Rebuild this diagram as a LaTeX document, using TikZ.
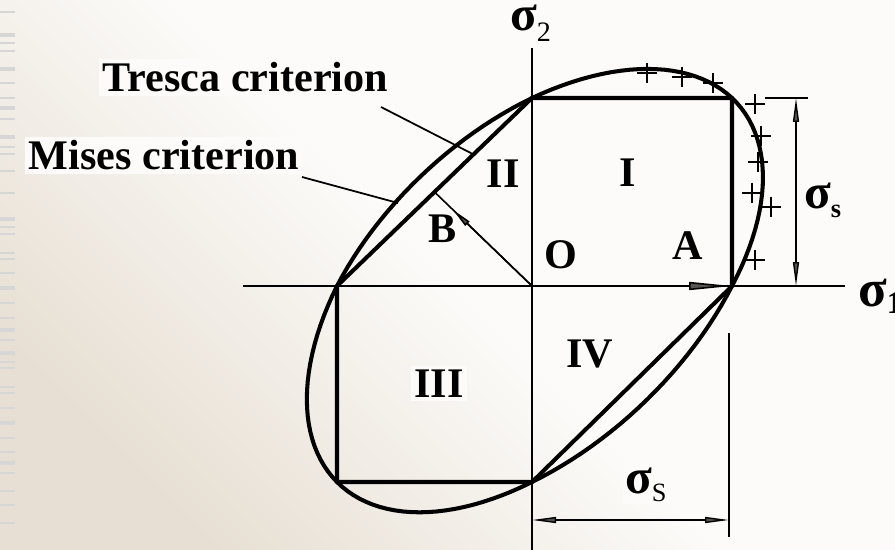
\documentclass[tikz,border=0pt]{standalone}
\usepackage{fontspec}
\setmainfont{Liberation Serif}
\usetikzlibrary{positioning,arrows.meta,calc}
\definecolor{PaperBeige}{RGB}{231,223,211}
\definecolor{PaperWhite}{RGB}{252,251,249}
\definecolor{EdgeGrey}{RGB}{214,214,214}
\definecolor{TipGrey}{RGB}{85,85,85}
\newcommand{\sigsub}[3]{σ\raisebox{-#2}{\fontsize{#3}{#3}\selectfont #1}}

\begin{document}
\begin{tikzpicture}[
x=0.02cm, y=-0.02cm,
lbl/.style={font=\fontsize{24}{26}\selectfont\bfseries, inner sep=2pt, fill=PaperWhite, anchor=base},
sig/.style={font=\fontsize{28}{30}\selectfont\bfseries, inner sep=1pt, anchor=base west},
yield/.style={line width=2.3pt, line join=round},
axis/.style={line width=1.1pt},
leader/.style={line width=1pt},
dim/.style={line width=0.8pt},
dimarr/.style={dim, {Triangle[length=0.48cm,width=0.12cm,fill=TipGrey]}-{Triangle[length=0.48cm,width=0.12cm,fill=TipGrey]}},
vec/.style={line width=0.9pt},
plusmark/.style={line width=1.1pt}
]
\useasboundingbox (0,0) rectangle (895,550);
\shade[bottom color=PaperBeige, top color=PaperWhite, middle color=PaperWhite, shading angle=-45] (0,0) rectangle (895,550);
\foreach \yy/\w in {12/1.2,35/2.6,43/0.8,51/1.6,69/2.6,83/1.6,98/0.8,108/2.6,119/1.6,137/2.6,147/0.8,154/1.6,171/1.6,193/0.8,219/2.6,227/0.8,234/1.6,253/0.8,259/1.6,273/1.6,288/2.6,303/1.6,318/0.8,330/2.6,340/1.6,353/2.6,362/0.8,368/1.6,387/0.8,393/1.6,408/0.8,423/2.6,438/1.6,452/0.8,463/2.6,473/1.6,491/0.8,505/1.6,523/0.8}
  \draw[EdgeGrey, line width=\w pt] (0,\yy) -- (15,\yy);

% points of the yield loci
\coordinate (O) at (532,286);
\coordinate (R) at (732,286);
\coordinate (RT) at (732,98);
\coordinate (T) at (532,98);
\coordinate (L) at (337,286);
\coordinate (LB) at (337,482);
\coordinate (Bm) at (532,482);
\coordinate (Bt) at ($(L)!0.5!(T)$);

% labels
\node[lbl, anchor=base west] (tresca) at (99,92) {Tresca criterion};
\node[lbl, anchor=base west] (mises) at (25,170) {Mises criterion};
\node[lbl] (regI) at (628,187) {I};
\node[lbl] (regII) at (503,188) {II};
\node[lbl] (regIII) at (439,397) {III};
\node[lbl] (regIV) at (590,367) {IV};
\node[lbl] (ptA) at (688,260) {A};
\node[lbl] (ptB) at (443,243) {B};
\node[lbl] (ptO) at (561,269) {O};
\node[sig, text height=1.6ex] (sig2) at (508,31) {\sigsub{\mdseries 2}{6pt}{16}};
\node[sig, font=\fontsize{30}{32}\selectfont\bfseries] (sig1) at (856,306) {\sigsub{1}{4pt}{18}};
\node[sig, fill=PaperWhite] (sigs) at (802,209) {\sigsub{s}{5pt}{15}};
\node[sig, fill=PaperWhite] (sigS) at (623,493) {\sigsub{\mdseries S}{5pt}{15}};

% axes
\coordinate (xl) at (243,286);
\coordinate (xr) at (845,286);
\coordinate (yt) at (532,48);
\coordinate (yb) at (532,550);
\draw[axis] (xl) -- (xr);
\draw[axis] (yt) -- (yb);

% Mises ellipse and Tresca hexagon
\draw[yield] plot[domain=0:360, samples=145] ({532+(cos(\x)+sin(\x)/sqrt(3))*((cos(\x)+sin(\x)/sqrt(3))>0 ? 200 : 195)}, {286-(cos(\x)-sin(\x)/sqrt(3))*((cos(\x)-sin(\x)/sqrt(3))>0 ? 188 : 196)}) -- cycle;
\draw[yield] (R) -- (RT) -- (T) -- (L) -- (LB) -- (Bm) -- cycle;

% vectors A and B
\draw[vec, -{Triangle[length=0.86cm,width=0.16cm,fill=TipGrey]}] (O) -- (R);
\draw[vec] (O) -- (Bt);
\draw[vec, -{Triangle[length=0.40cm,width=0.12cm,fill=TipGrey]}] (O) -- ($(O)!0.81!(Bt)$);

% leaders
\coordinate (trescaFoot) at (381,107);
\coordinate (misesFoot) at (302,177);
\coordinate (trescaEnd) at ($(L)!0.70!(T)$);
\coordinate (misesEnd) at (398,203);
\draw[leader] (trescaFoot) -- (trescaEnd);
\draw[leader] (misesFoot) -- (misesEnd);

% test points
\foreach \px/\py in {647/73,682/77,713/83,755/104,761/136,758/162,752/193,771/207,755/260}
  \draw[plusmark] (\px-10,\py) -- (\px+10,\py) (\px,\py-10) -- (\px,\py+10);

% dimensions
\coordinate (extR) at (765,98);
\coordinate (extRend) at (808,98);
\coordinate (dimRa) at (796,98);
\coordinate (dimRb) at (796,286);
\coordinate (extB) at (729,333);
\coordinate (extBend) at (729,537);
\coordinate (dimBa) at (532,520);
\coordinate (dimBb) at (729,520);
\draw[dim] (extR) -- (extRend);
\draw[dimarr] (dimRa) -- (dimRb);
\draw[dim] (extB) -- (extBend);
\draw[dimarr] (dimBa) -- (dimBb);
\end{tikzpicture}
\end{document}
